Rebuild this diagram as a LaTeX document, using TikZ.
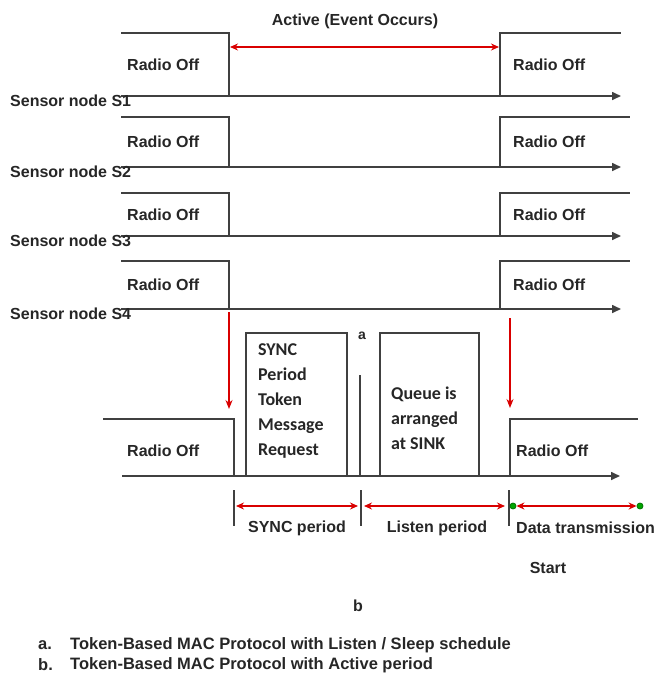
\documentclass[tikz,border=0pt]{standalone}
\usepackage{fontspec}
\setmainfont{Liberation Sans}
\newfontfamily\boxfont{Carlito}
\usetikzlibrary{arrows.meta,positioning,calc}

\begin{document}
\begin{tikzpicture}[x=1pt,y=-1pt,>=Stealth,
 every node/.style={font=\fontsize{16}{19}\selectfont\bfseries,text=black!85,inner sep=0pt},
 wave/.style={line width=1.6pt,black!75},
 axis/.style={wave,-{Triangle[length=9pt,width=8pt]}},
 redarr/.style={red!85!black,line width=1.3pt,{Stealth[length=8pt,width=7pt]}-{Stealth[length=8pt,width=7pt]}},
 downarr/.style={red!85!black,line width=1.3pt,-{Stealth[length=9pt,width=7pt]}},
 tick/.style={line width=1.1pt,black!75},
 boxtxt/.style={font=\boxfont\fontsize{18}{25}\selectfont\bfseries,align=left,anchor=west},
 legend/.style={anchor=west,font=\fontsize{16.5}{19}\selectfont\bfseries},
 dot/.style={circle,draw=green!45!black,fill=green!65!black,line width=0.8pt,minimum size=6pt}]
\useasboundingbox (0,0) rectangle (660,680);
% four sensor rows
\foreach \hi/\ax/\k/\rend in {33/96/1/621,117/167/2/630,193/236/3/630,261/309/4/630}{
 \draw[wave] (121,\hi)--(229,\hi)--(229,\ax);
 \draw[axis] (121,\ax)--(621,\ax);
 \draw[wave] (500,\ax)--(500,\hi)--(\rend,\hi);
 \node[anchor=west] (offL\k) at (127,{(\hi+\ax)/2}) {Radio Off};
 \node[anchor=west] (offR\k) at (513,{(\hi+\ax)/2}) {Radio Off};
 \node[anchor=west] (sens\k) at (10,\ax+5) {Sensor node  S\k};
}
\node (act) at (355,21) {Active (Event Occurs)};
\coordinate (actL) at (230,47);
\coordinate (actR) at (499,47);
\draw[redarr] (actL)--(actR);
% sink row
\coordinate (wakeL) at (229,312);
\coordinate (wakeR) at (510,318);
\coordinate (endL) at (229,409);
\coordinate (endR) at (510,408);
\draw[downarr] (wakeL)--(endL);
\draw[downarr] (wakeR)--(endR);
\draw[wave] (103,419)--(234,419)--(234,476);
\draw[axis] (122,476)--(620,476);
\draw[wave] (246,476)--(246,333)--(347,333)--(347,476);
\draw[wave] (360,375)--(360,476);
\draw[wave] (380,476)--(380,333)--(479,333)--(479,476);
\draw[wave] (510,476)--(510,419)--(638,419);
\node[anchor=west] (offS) at (127,451) {Radio Off};
\node[anchor=west] (offT) at (516,451) {Radio Off};
\node[boxtxt] (sync) at (258,401) {SYNC\\Period\\Token\\Message\\Request};
\node[boxtxt] (queue) at (391,418) {Queue is\\arranged\\at SINK};
\node[font=\fontsize{14}{16}\selectfont\bfseries] (a) at (362,336) {a};
% periods
\foreach \x/\n in {234/t1,361/t2,509/t3}{
 \draw[tick] (\x,490)--(\x,526);
 \coordinate (\n) at (\x,506);
}
\node[dot] (g1) at (513,506) {};
\node[dot] (g2) at (640,506) {};
\draw[redarr] ($(t1)+(2,0)$)--($(t2)+(-3,0)$);
\draw[redarr] ($(t2)+(3,0)$)--($(t3)+(-4,0)$);
\draw[redarr] (g1.east)--(g2.west);
\node (syncp) at (297,528) {SYNC period};
\node (listp) at (437,528) {Listen period};
\node[anchor=west] (datap) at (516,528) {Data transmission};
\node (start) at (548,568) {Start};
\node (b) at (358,606) {b};
\node[legend] (la) at (38,645) {a.};
\node[legend] (lb) at (38,665) {b.};
\node[legend] (ta) at (70,645) {Token-Based MAC Protocol with Listen / Sleep schedule};
\node[legend] (tb) at (70,665) {Token-Based MAC Protocol with Active period};
\end{tikzpicture}
\end{document}
